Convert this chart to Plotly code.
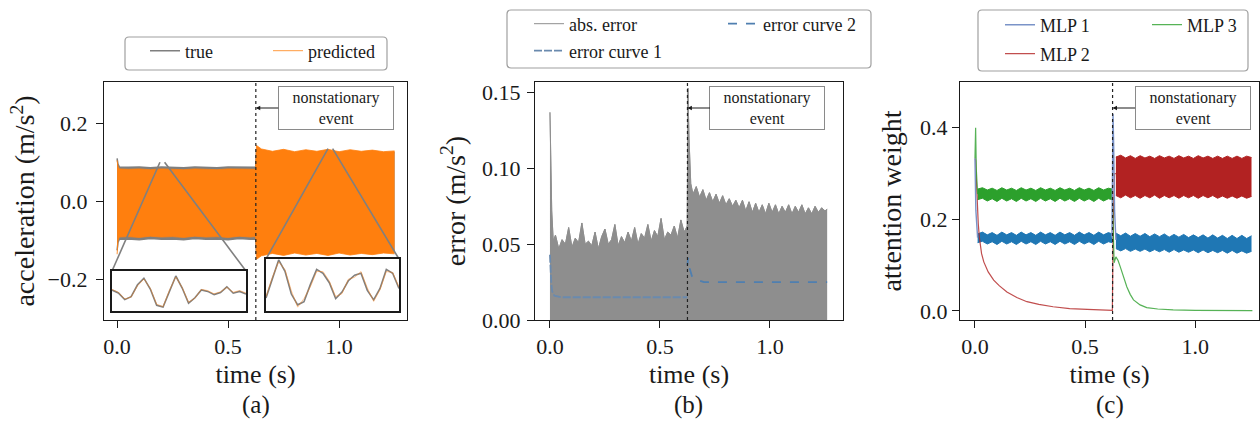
import plotly.graph_objects as go

W, H = 1260, 427
SERIF = "Liberation Serif"
INK = "#1a1a1a"

EVENT_T = 0.625

# ---------------- (a) acceleration: envelopes of true / predicted ----------------
A_T_PRE = [0.0, 0.004, 0.01, 0.05, 0.10, 0.15, 0.20, 0.25, 0.30, 0.35, 0.40, 0.45, 0.50, 0.55, 0.60, 0.624]
A_TRUE_UP_PRE = [0.110, 0.095, 0.088, 0.087, 0.088, 0.086, 0.088, 0.087, 0.086, 0.088, 0.087, 0.086, 0.088, 0.087, 0.086, 0.087]
A_TRUE_LO_PRE = [-0.125, -0.105, -0.097, -0.096, -0.098, -0.095, -0.097, -0.096, -0.098, -0.095, -0.097, -0.096, -0.098, -0.095, -0.097, -0.096]
A_PRED_UP_PRE = [0.105, 0.090, 0.083, 0.082, 0.083, 0.081, 0.083, 0.082, 0.081, 0.083, 0.082, 0.081, 0.083, 0.082, 0.081, 0.082]
A_PRED_LO_PRE = [-0.135, -0.100, -0.091, -0.090, -0.092, -0.089, -0.091, -0.090, -0.092, -0.089, -0.091, -0.090, -0.092, -0.089, -0.091, -0.090]

A_T_POST = [0.625, 0.628, 0.65, 0.70, 0.75, 0.80, 0.85, 0.90, 0.95, 1.00, 1.05, 1.10, 1.15, 1.20, 1.25]
A_TRUE_UP_POST = [0.095, 0.130, 0.126, 0.124, 0.126, 0.124, 0.126, 0.124, 0.126, 0.124, 0.126, 0.124, 0.125, 0.124, 0.125]
A_TRUE_LO_POST = [-0.098, -0.133, -0.130, -0.128, -0.130, -0.128, -0.130, -0.128, -0.130, -0.128, -0.130, -0.128, -0.129, -0.128, -0.129]
A_PRED_UP_POST = [0.100, 0.143, 0.134, 0.128, 0.133, 0.127, 0.132, 0.128, 0.133, 0.127, 0.132, 0.128, 0.131, 0.127, 0.129]
A_PRED_LO_POST = [-0.100, -0.148, -0.139, -0.133, -0.138, -0.132, -0.137, -0.133, -0.138, -0.132, -0.137, -0.133, -0.136, -0.132, -0.134]

# zoomed windows (insets)
INSET1_T = [0.193, 0.194, 0.195, 0.196, 0.197, 0.198, 0.199, 0.200, 0.201, 0.202, 0.203,
            0.204, 0.205, 0.206, 0.207, 0.208, 0.209, 0.210, 0.211, 0.212, 0.213, 0.214]
INSET1_TRUE = [0.005, -0.010, -0.043, -0.028, 0.031, 0.064, 0.010, -0.072, -0.080, -0.002, 0.075,
               0.015, -0.061, -0.034, 0.005, -0.002, -0.018, -0.008, 0.021, -0.011, -0.002, -0.015]
INSET1_PRED = [0.008, -0.006, -0.040, -0.030, 0.026, 0.060, 0.014, -0.066, -0.078, 0.004, 0.070,
               0.018, -0.056, -0.036, 0.008, 0.002, -0.014, -0.004, 0.018, -0.006, 0.002, -0.010]
INSET1_YR = [-0.1, 0.1]

INSET2_T = [0.950, 0.951, 0.952, 0.953, 0.954, 0.955, 0.956, 0.957, 0.958, 0.959, 0.960,
            0.961, 0.962, 0.963, 0.964, 0.965, 0.966, 0.967, 0.968, 0.969, 0.970, 0.971]
INSET2_TRUE = [-0.067, 0.032, 0.130, 0.071, -0.047, -0.103, -0.087, 0.002, 0.081, 0.061, 0.012,
               -0.071, -0.037, 0.022, 0.051, 0.061, -0.028, -0.077, -0.018, 0.081, 0.061, -0.018]
INSET2_PRED = [-0.060, 0.040, 0.120, 0.080, -0.030, -0.115, -0.070, -0.010, 0.070, 0.070, 0.020,
               -0.060, -0.045, 0.030, 0.040, 0.070, -0.015, -0.085, -0.025, 0.070, 0.065, -0.010]
INSET2_YR = [-0.135, 0.135]

# ---------------- (b) error ----------------
B_T = [0.000, 0.004, 0.008, 0.015, 0.025, 0.040, 0.055, 0.070, 0.085, 0.100, 0.115, 0.130, 0.145,
       0.160, 0.175, 0.190, 0.205, 0.220, 0.235, 0.250, 0.265, 0.280, 0.295, 0.310, 0.325, 0.340,
       0.355, 0.370, 0.385, 0.400, 0.415, 0.430, 0.445, 0.460, 0.475, 0.490, 0.505, 0.520, 0.535,
       0.550, 0.565, 0.580, 0.595, 0.610, 0.624,
       0.627, 0.632, 0.640, 0.650, 0.665, 0.680, 0.695, 0.710, 0.725, 0.740, 0.755, 0.770, 0.785,
       0.800, 0.815, 0.830, 0.845, 0.860, 0.875, 0.890, 0.905, 0.920, 0.935, 0.950, 0.965, 0.980,
       0.995, 1.010, 1.025, 1.040, 1.055, 1.070, 1.085, 1.100, 1.115, 1.130, 1.145, 1.160, 1.175,
       1.190, 1.205, 1.220, 1.235, 1.250, 1.260]
B_ABS_ERR = [0.137, 0.095, 0.072, 0.052,
             0.056, 0.047, 0.053, 0.050, 0.061, 0.048, 0.054, 0.051, 0.064, 0.050, 0.052, 0.049, 0.058,
             0.047, 0.055, 0.060, 0.050, 0.053, 0.063, 0.049, 0.055, 0.051, 0.058, 0.052, 0.061, 0.050,
             0.057, 0.054, 0.063, 0.052, 0.059, 0.055, 0.067, 0.053, 0.058, 0.056, 0.062, 0.054, 0.066,
             0.058, 0.062,
             0.153, 0.120, 0.090, 0.083, 0.088, 0.081, 0.086, 0.079, 0.084, 0.078, 0.083, 0.077, 0.082,
             0.076, 0.080, 0.075, 0.079, 0.074, 0.079, 0.072, 0.078, 0.071, 0.077, 0.071, 0.076, 0.070,
             0.077, 0.071, 0.076, 0.070, 0.075, 0.071, 0.076, 0.070, 0.075, 0.071, 0.076, 0.070, 0.074,
             0.070, 0.075, 0.071, 0.074, 0.072, 0.073]
B_EC1_T = [0.0, 0.003, 0.006, 0.010, 0.020, 0.050, 0.100, 0.200, 0.300, 0.400, 0.500, 0.600, 0.624]
B_EC1 = [0.043, 0.032, 0.024, 0.019, 0.016, 0.015, 0.015, 0.015, 0.015, 0.015, 0.015, 0.015, 0.015]
B_EC2_T = [0.625, 0.628, 0.635, 0.645, 0.660, 0.680, 0.700, 0.750, 0.800, 0.900, 1.000, 1.100, 1.200, 1.260]
B_EC2 = [0.036, 0.041, 0.034, 0.029, 0.027, 0.026, 0.025, 0.025, 0.025, 0.025, 0.025, 0.025, 0.025, 0.025]

# ---------------- (c) attention weights ----------------
C_T_PRE = [0.012, 0.034, 0.056, 0.078, 0.100, 0.122, 0.144, 0.166, 0.188, 0.210, 0.232, 0.254, 0.276, 0.298,
           0.320, 0.342, 0.364, 0.386, 0.408, 0.430, 0.452, 0.474, 0.496, 0.518, 0.540, 0.562, 0.584, 0.606, 0.624]
C_M1_UP_PRE = [0.168, 0.172, 0.166, 0.171, 0.165, 0.172, 0.166, 0.171, 0.165, 0.172, 0.166, 0.171, 0.165, 0.172,
               0.166, 0.171, 0.165, 0.172, 0.166, 0.171, 0.165, 0.172, 0.166, 0.171, 0.165, 0.172, 0.166, 0.171, 0.168]
C_M1_LO_PRE = [0.149, 0.152, 0.146, 0.151, 0.145, 0.152, 0.146, 0.151, 0.145, 0.152, 0.146, 0.151, 0.145, 0.152,
               0.146, 0.151, 0.145, 0.152, 0.146, 0.151, 0.145, 0.152, 0.146, 0.151, 0.145, 0.152, 0.146, 0.151, 0.149]
C_M3_UP_PRE = [0.266, 0.269, 0.264, 0.268, 0.263, 0.269, 0.264, 0.268, 0.263, 0.269, 0.264, 0.268, 0.263, 0.269,
               0.264, 0.268, 0.263, 0.269, 0.264, 0.268, 0.263, 0.269, 0.264, 0.268, 0.263, 0.269, 0.264, 0.268, 0.266]
C_M3_LO_PRE = [0.243, 0.246, 0.240, 0.245, 0.239, 0.246, 0.240, 0.245, 0.239, 0.246, 0.240, 0.245, 0.239, 0.246,
               0.240, 0.245, 0.239, 0.246, 0.240, 0.245, 0.239, 0.246, 0.240, 0.245, 0.239, 0.246, 0.240, 0.245, 0.243]

C_T_POST = [0.640, 0.662, 0.684, 0.706, 0.728, 0.750, 0.772, 0.794, 0.816, 0.838, 0.860, 0.882, 0.904, 0.926,
            0.948, 0.970, 0.992, 1.014, 1.036, 1.058, 1.080, 1.102, 1.124, 1.146, 1.168, 1.190, 1.212, 1.234, 1.256]
C_M1_UP_POST = [0.170, 0.164, 0.170, 0.163, 0.169, 0.163, 0.169, 0.162, 0.168, 0.162, 0.168, 0.161, 0.167, 0.161,
                0.167, 0.160, 0.166, 0.160, 0.166, 0.159, 0.166, 0.159, 0.165, 0.158, 0.165, 0.158, 0.165, 0.158, 0.164]
C_M1_LO_POST = [0.136, 0.131, 0.136, 0.130, 0.135, 0.130, 0.135, 0.129, 0.134, 0.129, 0.134, 0.128, 0.134, 0.128,
                0.133, 0.128, 0.133, 0.127, 0.133, 0.127, 0.132, 0.127, 0.132, 0.126, 0.132, 0.126, 0.131, 0.126, 0.130]
C_M2_UP_POST = [0.336, 0.340, 0.334, 0.339, 0.333, 0.339, 0.334, 0.338, 0.333, 0.339, 0.334, 0.338, 0.333, 0.339,
                0.334, 0.338, 0.333, 0.339, 0.334, 0.338, 0.333, 0.338, 0.333, 0.338, 0.333, 0.338, 0.333, 0.338, 0.335]
C_M2_LO_POST = [0.252, 0.247, 0.253, 0.247, 0.252, 0.246, 0.252, 0.247, 0.253, 0.246, 0.252, 0.247, 0.252, 0.246,
                0.252, 0.247, 0.252, 0.246, 0.252, 0.247, 0.252, 0.246, 0.251, 0.246, 0.251, 0.246, 0.251, 0.246, 0.250]

C_M1_LINE_T = [0.0, 0.004, 0.012, None, 0.622, 0.627, 0.630, 0.634, 0.640]
C_M1_LINE = [0.333, 0.220, 0.160, None, 0.160, 0.430, 0.360, 0.220, 0.155]
C_M2_LINE_T = [0.0, 0.003, 0.006, 0.010, 0.015, 0.020, 0.030, 0.040, 0.060, 0.085, 0.110, 0.145, 0.190,
               0.236, 0.290, 0.355, 0.430, 0.510, 0.570, 0.624, 0.628, 0.634, 0.640]
C_M2_LINE = [0.333, 0.330, 0.290, 0.230, 0.190, 0.160, 0.125, 0.107, 0.085, 0.067, 0.055, 0.041, 0.029,
             0.020, 0.014, 0.009, 0.005, 0.003, 0.002, 0.001, 0.200, 0.300, 0.300]
C_M3_LINE_T = [0.0, 0.003, 0.006, 0.012, None, 0.624, 0.628, 0.632, 0.640, 0.650, 0.660, 0.675, 0.690,
               0.705, 0.720, 0.750, 0.780, 0.830, 0.900, 1.000, 1.100, 1.260]
C_M3_LINE = [0.333, 0.400, 0.310, 0.255, None, 0.255, 0.160, 0.105, 0.118, 0.110, 0.096, 0.075, 0.052,
             0.036, 0.024, 0.013, 0.007, 0.004, 0.002, 0.001, 0.0006, 0.0003]

# ---------------- layout constants (pixels) ----------------
PANEL_A = dict(left=104, right=407, top=82, bottom=320)
PANEL_B = dict(left=535, right=843, top=82, bottom=320)
PANEL_C = dict(left=960, right=1259, top=82, bottom=320)
INSET_A1 = dict(left=112, right=246, top=271, bottom=311)
INSET_A2 = dict(left=266, right=399, top=259, bottom=311)

A_XR, A_YR = [-0.059, 1.306], [-0.303, 0.305]
B_XR, B_YR = [-0.068, 1.332], [0.0, 0.157]
C_XR, C_YR = [-0.068, 1.29], [-0.02, 0.5]

GRAY = "#7f7f7f"
ORANGE = "#ff7f0e"
BLUE = "#1f77b4"
RED = "#b22222"
GREEN = "#2ca02c"


def xdom(p):
    return [p["left"] / W, p["right"] / W]


def ydom(p):
    return [1 - p["bottom"] / H, 1 - p["top"] / H]


def to_dx(px, p, xr):
    return xr[0] + (px - p["left"]) / (p["right"] - p["left"]) * (xr[1] - xr[0])


def to_dy(py, p, yr):
    return yr[1] - (py - p["top"]) / (p["bottom"] - p["top"]) * (yr[1] - yr[0])


fig = go.Figure()


def band(t, up, lo, color, xa, ya, name=None, legend=None, edge=1.0, opacity=1.0):
    fig.add_trace(go.Scatter(x=t, y=up, mode="lines", line=dict(color=color, width=edge),
                             xaxis=xa, yaxis=ya, name=name, showlegend=name is not None,
                             legend=legend, opacity=opacity, hoverinfo="skip"))
    fig.add_trace(go.Scatter(x=t, y=lo, mode="lines", line=dict(color=color, width=edge),
                             fill="tonexty", fillcolor=color, xaxis=xa, yaxis=ya,
                             showlegend=False, opacity=opacity, hoverinfo="skip"))


# (a)
band(A_T_PRE + A_T_POST, A_TRUE_UP_PRE + A_TRUE_UP_POST, A_TRUE_LO_PRE + A_TRUE_LO_POST,
     GRAY, "x", "y", name="true", legend="legend", edge=1.5)
band(A_T_PRE + A_T_POST, A_PRED_UP_PRE + A_PRED_UP_POST, A_PRED_LO_PRE + A_PRED_LO_POST,
     ORANGE, "x", "y", name="predicted", legend="legend2", edge=0.8)

# connector lines from inset boxes to zoom windows
for inset, ts, yr in ((INSET_A1, INSET1_T, INSET1_YR), (INSET_A2, INSET2_T, INSET2_YR)):
    fig.add_trace(go.Scatter(
        x=[to_dx(inset["left"], PANEL_A, A_XR), ts[0], None, to_dx(inset["right"], PANEL_A, A_XR), ts[-1]],
        y=[to_dy(inset["top"], PANEL_A, A_YR), yr[1], None, to_dy(inset["top"], PANEL_A, A_YR), yr[1]],
        mode="lines", line=dict(color="#808080", width=1.6), xaxis="x", yaxis="y",
        showlegend=False, hoverinfo="skip"))

# insets
for xa, ya, ts, tv, pv in (("x4", "y4", INSET1_T, INSET1_TRUE, INSET1_PRED),
                           ("x5", "y5", INSET2_T, INSET2_TRUE, INSET2_PRED)):
    fig.add_trace(go.Scatter(x=ts, y=tv, mode="lines", line=dict(color=GRAY, width=1.6),
                             xaxis=xa, yaxis=ya, showlegend=False, hoverinfo="skip"))
    fig.add_trace(go.Scatter(x=ts, y=pv, mode="lines", line=dict(color=ORANGE, width=0.9),
                             opacity=0.5, xaxis=xa, yaxis=ya, showlegend=False, hoverinfo="skip"))

# (b)
fig.add_trace(go.Scatter(x=B_T, y=B_ABS_ERR, mode="lines", line=dict(color="#8e8e8e", width=0.8),
                         fill="tozeroy", fillcolor="#8e8e8e", xaxis="x2", yaxis="y2",
                         showlegend=False, hoverinfo="skip"))
fig.add_trace(go.Scatter(x=B_T, y=B_ABS_ERR, mode="lines", line=dict(color="#8e8e8e", width=1.0),
                         xaxis="x2", yaxis="y2", name="abs. error", legend="legend3", hoverinfo="skip"))
fig.add_trace(go.Scatter(x=B_EC1_T, y=B_EC1, mode="lines",
                         line=dict(color="#6a8aae", width=1.8, dash="8px,2px"),
                         xaxis="x2", yaxis="y2", name="error curve 1", legend="legend4", hoverinfo="skip"))
fig.add_trace(go.Scatter(x=B_EC2_T, y=B_EC2, mode="lines",
                         line=dict(color="#4f7fb0", width=1.8, dash="dash"),
                         xaxis="x2", yaxis="y2", name="error curve 2", legend="legend5", hoverinfo="skip"))

# (c)
band(C_T_PRE, C_M1_UP_PRE, C_M1_LO_PRE, BLUE, "x3", "y3")
band(C_T_POST, C_M1_UP_POST, C_M1_LO_POST, BLUE, "x3", "y3")
band(C_T_PRE, C_M3_UP_PRE, C_M3_LO_PRE, GREEN, "x3", "y3")
band(C_T_POST, C_M2_UP_POST, C_M2_LO_POST, RED, "x3", "y3")
fig.add_trace(go.Scatter(x=C_M2_LINE_T, y=C_M2_LINE, mode="lines", line=dict(color=RED, width=1.2),
                         opacity=0.8, xaxis="x3", yaxis="y3", name="MLP 2", legend="legend7",
                         hoverinfo="skip"))
fig.add_trace(go.Scatter(x=C_M3_LINE_T, y=C_M3_LINE, mode="lines", line=dict(color=GREEN, width=1.2),
                         opacity=0.8, xaxis="x3", yaxis="y3", name="MLP 3", legend="legend8",
                         hoverinfo="skip"))
fig.add_trace(go.Scatter(x=C_M1_LINE_T, y=C_M1_LINE, mode="lines", line=dict(color="#7a93c8", width=1.4),
                         xaxis="x3", yaxis="y3", name="MLP 1", legend="legend6", hoverinfo="skip"))

# ---------------- axes ----------------
TICKFONT = dict(family=SERIF, size=22, color=INK)
TITLEFONT = dict(family=SERIF, size=28, color=INK)


def main_axis(**kw):
    d = dict(showline=True, mirror=True, linecolor=INK, linewidth=1.2, ticks="outside", ticklen=7,
             tickwidth=1.2, tickcolor=INK, showgrid=False, zeroline=False, tickfont=TICKFONT)
    d.update(kw)
    return d


def time_axis(p, xr, anchor):
    return main_axis(domain=xdom(p), range=xr, anchor=anchor, tickvals=[0.0, 0.5, 1.0],
                     tickformat=".1f", ticklabelstandoff=-1,
                     title=dict(text="time (s)", font=dict(family=SERIF, size=26, color=INK), standoff=7))


def inset_axis(dom, rng, anchor):
    return dict(domain=dom, range=rng, anchor=anchor, showline=True, mirror=True, linecolor=INK,
                linewidth=1.8, ticks="", showticklabels=False, showgrid=False, zeroline=False)


layout = dict(
    width=W, height=H, margin=dict(l=0, r=0, t=0, b=0, autoexpand=False),
    paper_bgcolor="white", plot_bgcolor="white",
    font=dict(family=SERIF, color=INK),
    xaxis=time_axis(PANEL_A, A_XR, "y"),
    yaxis=main_axis(domain=ydom(PANEL_A), range=A_YR, anchor="x", tickvals=[-0.2, 0.0, 0.2],
                    tickformat=".1f", ticklabelstandoff=4,
                    title=dict(text="acceleration (m/s<sup>2</sup>)", font=TITLEFONT, standoff=4)),
    xaxis2=time_axis(PANEL_B, B_XR, "y2"),
    yaxis2=main_axis(domain=ydom(PANEL_B), range=B_YR, anchor="x2", tickvals=[0.0, 0.05, 0.10, 0.15],
                     tickformat=".2f", ticklabelstandoff=2,
                     title=dict(text="error (m/s<sup>2</sup>)", font=TITLEFONT, standoff=8)),
    xaxis3=time_axis(PANEL_C, C_XR, "y3"),
    yaxis3=main_axis(domain=ydom(PANEL_C), range=C_YR, anchor="x3", tickvals=[0.0, 0.2, 0.4],
                     tickformat=".1f", ticklabelstandoff=0,
                     title=dict(text="attention weight", font=TITLEFONT, standoff=10)),
    xaxis4=inset_axis(xdom(INSET_A1), [INSET1_T[0], INSET1_T[-1]], "y4"),
    yaxis4=inset_axis(ydom(INSET_A1), INSET1_YR, "x4"),
    xaxis5=inset_axis(xdom(INSET_A2), [INSET2_T[0], INSET2_T[-1]], "y5"),
    yaxis5=inset_axis(ydom(INSET_A2), INSET2_YR, "x5"),
)

# ---------------- legends (one per entry, framed by a box per panel) ----------------
LEGEND_FONT = dict(family=SERIF, size=18, color=INK)
LEGEND_POS = {  # text-left x, text-center y (px)
    "legend": (185, 53), "legend2": (308, 53),
    "legend3": (569, 26), "legend4": (569, 53), "legend5": (763, 26),
    "legend6": (1040, 27), "legend7": (1040, 56), "legend8": (1187, 27),
}
for key, (tx, ty) in LEGEND_POS.items():
    layout[key] = dict(x=(tx - 40) / W, y=1 - (ty - 2) / H, xanchor="left", yanchor="middle",
                       bgcolor="rgba(0,0,0,0)", borderwidth=0, font=LEGEND_FONT,
                       orientation="v", itemclick=False, itemdoubleclick=False)

LEGEND_BOXES = [(125, 37, 387, 70), (507, 10, 871, 68), (978, 10, 1248, 71)]
shapes = []
for (x0, y0, x1, y1) in LEGEND_BOXES:
    r = 4
    X0, X1 = x0 / W, x1 / W
    Y0, Y1 = 1 - y0 / H, 1 - y1 / H
    rx, ry = r / W, r / H
    path = (f"M {X0 + rx},{Y0} L {X1 - rx},{Y0} Q {X1},{Y0} {X1},{Y0 - ry} "
            f"L {X1},{Y1 + ry} Q {X1},{Y1} {X1 - rx},{Y1} L {X0 + rx},{Y1} "
            f"Q {X0},{Y1} {X0},{Y1 + ry} L {X0},{Y0 - ry} Q {X0},{Y0} {X0 + rx},{Y0} Z")
    shapes.append(dict(type="path", path=path, xref="paper", yref="paper",
                       line=dict(color="#a0a0a0", width=1.2), fillcolor="white", layer="below"))

# white backgrounds for insets
for xa, ya, ts, yr in (("x4", "y4", INSET1_T, INSET1_YR), ("x5", "y5", INSET2_T, INSET2_YR)):
    shapes.append(dict(type="rect", xref=xa, yref=ya, x0=ts[0], x1=ts[-1], y0=yr[0], y1=yr[1],
                       fillcolor="white", line=dict(width=0), layer="below"))

# event lines
for xa, ya in (("x", "y"), ("x2", "y2"), ("x3", "y3")):
    shapes.append(dict(type="line", xref=xa, yref=f"{ya} domain", x0=EVENT_T, x1=EVENT_T, y0=0, y1=1,
                       line=dict(color="#222222", width=1.2, dash="dot"), layer="above"))
layout["shapes"] = shapes

# annotations
annotations = []
for xa, ya, p in (("x", "y", PANEL_A), ("x2", "y2", PANEL_B), ("x3", "y3", PANEL_C)):
    annotations.append(dict(
        x=EVENT_T, y=1 - (108 - p["top"]) / (p["bottom"] - p["top"]), xref=xa, yref=f"{ya} domain",
        text="nonstationary<br>event", showarrow=True, arrowhead=2, arrowsize=0.8, arrowwidth=1.1,
        arrowcolor=INK, ax=80, ay=0, font=dict(family=SERIF, size=16, color=INK),
        bordercolor="#8a8a8a", borderwidth=1, borderpad=0, bgcolor="white", width=114, height=42))
for label, p in (("(a)", PANEL_A), ("(b)", PANEL_B), ("(c)", PANEL_C)):
    annotations.append(dict(x=(p["left"] + p["right"]) / 2 / W, y=1 - 405 / H, xref="paper", yref="paper",
                            text=label, showarrow=False, font=dict(family=SERIF, size=25, color=INK),
                            xanchor="center", yanchor="middle"))
layout["annotations"] = annotations

fig.update_layout(**layout)
fig.write_html("out.html", config={"displayModeBar": False},
               post_script="document.body.style.margin='0px';document.body.style.padding='0px';")
